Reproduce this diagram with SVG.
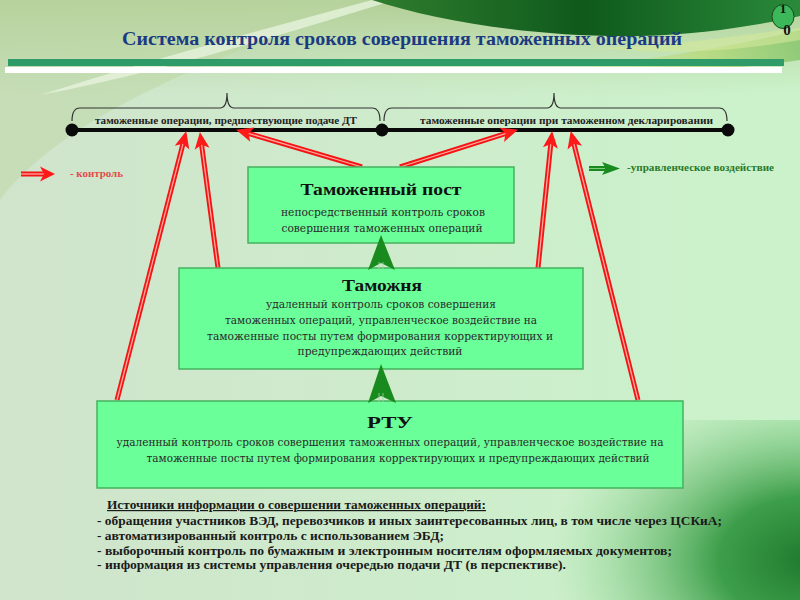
<svg xmlns="http://www.w3.org/2000/svg" width="800" height="600" viewBox="0 0 800 600">
<defs>
  <linearGradient id="bg" x1="0" y1="0" x2="1" y2="0">
    <stop offset="0" stop-color="#d0e4cc"/>
    <stop offset="1" stop-color="#cbf3cb"/>
  </linearGradient>
  <linearGradient id="topband" x1="0" y1="0" x2="0" y2="1">
    <stop offset="0" stop-color="#b2cf96"/>
    <stop offset="1" stop-color="#b6d29c" stop-opacity="0"/>
  </linearGradient>
  <linearGradient id="dark" x1="0" y1="0" x2="1" y2="0">
    <stop offset="0" stop-color="#2f7d2e"/>
    <stop offset="0.5" stop-color="#0f5a1c"/>
    <stop offset="1" stop-color="#2a8a3a"/>
  </linearGradient>
  <linearGradient id="yband" x1="0" y1="0" x2="1" y2="0">
    <stop offset="0" stop-color="#c8e090" stop-opacity="0"/>
    <stop offset="0.6" stop-color="#b5d870"/>
    <stop offset="1" stop-color="#7cc060"/>
  </linearGradient>
  <radialGradient id="br" cx="810" cy="560" r="260" gradientUnits="userSpaceOnUse" gradientTransform="translate(810 560) scale(1 0.7) translate(-810 -560)">
    <stop offset="0" stop-color="#1e7a2e"/>
    <stop offset="0.35" stop-color="#3d9e4a"/>
    <stop offset="1" stop-color="#8fd88f" stop-opacity="0"/>
  </radialGradient>
  <marker id="rhead" markerUnits="userSpaceOnUse" viewBox="-10 -10 20 20" refX="0" refY="0" markerWidth="20" markerHeight="20" orient="auto">
    <path d="M9,0 L-8,-7.5 L-4,0 L-8,7.5 Z" fill="#ff1a1a"/>
  </marker>
  <style>
    .box{fill:#6bff99;stroke:#45b25e;stroke-width:1.5}
    .ttl{font-family:"Liberation Serif","DejaVu Serif",serif;font-weight:bold;font-size:16px;fill:#111;text-anchor:middle}
    .sub{font-family:"DejaVu Serif","Liberation Serif",serif;font-size:10.5px;fill:#2a2a2a;text-anchor:middle}
    .lab{font-family:"Liberation Serif","DejaVu Serif",serif;font-weight:bold;font-size:10px;fill:#222}
    .src{font-family:"Liberation Serif","DejaVu Serif",serif;font-weight:bold;font-size:12px;fill:#1a1a1a}
    .ro{fill:none;stroke:#f31515;stroke-width:5}
    .ri{fill:none;stroke:#ffa89c;stroke-width:1.3}
    .ga{fill:#188a1e}
  </style>
</defs>

<!-- background -->
<rect x="0" y="0" width="800" height="600" fill="url(#bg)"/>
<rect x="0" y="0" width="800" height="95" fill="url(#topband)"/>
<path d="M0,200 C60,120 200,60 380,0 L0,0 Z" fill="#bcd6a2" opacity="0.5"/>
<path d="M40,95 C150,60 260,30 372,0 L395,0 C280,35 170,70 40,95 Z" fill="#e6f2dc" opacity="0.8"/>
<path d="M560,70 C640,60 720,50 800,30 L800,60 C720,72 640,75 560,70 Z" fill="url(#yband)" opacity="0.7"/>
<path d="M372,0 C440,22 540,38 640,36 C700,35 760,25 800,16 L800,0 Z" fill="url(#dark)"/>
<path d="M600,48 C680,45 740,35 800,28 L800,40 C740,50 680,56 600,48 Z" fill="#d4e89a" opacity="0.6"/>
<rect x="0" y="420" width="800" height="180" fill="url(#br)"/>

<!-- title and bars -->
<text x="402" y="45" font-family="Liberation Serif, DejaVu Serif, serif" font-weight="bold" font-size="18" fill="#1c3a82" text-anchor="middle" textLength="560" lengthAdjust="spacingAndGlyphs">Система контроля сроков совершения таможенных операций</text>
<rect x="8" y="59" width="776" height="7" fill="#2e9b68"/>
<rect x="5" y="67" width="777" height="6" fill="#ffffff"/>

<!-- badge -->
<g id="badge">
  <ellipse cx="783" cy="16.5" rx="11" ry="12" fill="#3cb85a" stroke="#1a4a1a" stroke-width="1"/>
  <text x="783" y="13" font-family="Liberation Serif, serif" font-weight="bold" font-size="13" fill="#111" text-anchor="middle">1</text>
  <text x="787" y="35" font-family="Liberation Serif, serif" font-weight="bold" font-size="15" fill="#111" text-anchor="middle">0</text>
</g>

<!-- timeline -->
<g id="timeline">
  <path d="M72,121 Q72,108 80,108 L220,108 Q227,108 227,93 Q227,108 234,108 L372,108 Q380,108 380,121" fill="none" stroke="#333" stroke-width="1.2"/>
  <path d="M384,121 Q384,108 392,108 L547,108 Q554,108 554,93 Q554,108 561,108 L719,108 Q727,108 727,121" fill="none" stroke="#333" stroke-width="1.2"/>
  <line x1="72" y1="130" x2="728" y2="130" stroke="#0a0a0a" stroke-width="4"/>
  <circle cx="72" cy="130" r="6.5" fill="#0a0a0a"/>
  <circle cx="382" cy="130" r="6.5" fill="#0a0a0a"/>
  <circle cx="728" cy="130" r="6.5" fill="#0a0a0a"/>
  <text class="lab" x="95" y="124" textLength="262" lengthAdjust="spacingAndGlyphs">таможенные операции, предшествующие подаче ДТ</text>
  <text class="lab" x="420" y="124" textLength="293" lengthAdjust="spacingAndGlyphs">таможенные операции при  таможенном  декларировании</text>
</g>

<!-- legend -->
<g id="legend">
  <line x1="21" y1="174" x2="46" y2="174" class="ro"/>
  <line x1="21" y1="174" x2="45" y2="174" class="ri"/>
  <path d="M55,174 L40,166.5 L44,174 L40,181.5 Z" fill="#ff1a1a"/>
  <text x="70" y="177" font-family="Liberation Serif, serif" font-weight="bold" font-size="10" fill="#e34a4a" textLength="53" lengthAdjust="spacingAndGlyphs">- контроль</text>
  <line x1="589" y1="168.5" x2="606" y2="168.5" stroke="#1a8a1e" stroke-width="5"/>
  <line x1="589" y1="168.5" x2="605" y2="168.5" stroke="#7ccc7c" stroke-width="1"/>
  <path d="M620,168.5 L602,162 L606,168.5 L602,175 Z" fill="#188a1e"/>
  <text x="627" y="171" font-family="Liberation Serif, serif" font-weight="bold" font-size="10" fill="#2a7a2a" textLength="147" lengthAdjust="spacingAndGlyphs">-управленческое воздействие</text>
</g>

<!-- connectors -->
<g id="connectors">
  <line class="ro" x1="117" y1="400" x2="184" y2="139.8"/>
  <line class="ri" x1="117" y1="400" x2="184" y2="139.8" marker-end="url(#rhead)"/>
  <line class="ro" x1="218" y1="268" x2="201.1" y2="140.9"/>
  <line class="ri" x1="218" y1="268" x2="201.1" y2="140.9" marker-end="url(#rhead)"/>
  <line class="ro" x1="362" y1="167" x2="244.7" y2="132.3"/>
  <line class="ri" x1="362" y1="167" x2="244.7" y2="132.3" marker-end="url(#rhead)"/>
  <line class="ro" x1="400" y1="167" x2="509.4" y2="132.4"/>
  <line class="ri" x1="400" y1="167" x2="509.4" y2="132.4" marker-end="url(#rhead)"/>
  <line class="ro" x1="538" y1="268" x2="551.2" y2="140"/>
  <line class="ri" x1="538" y1="268" x2="551.2" y2="140" marker-end="url(#rhead)"/>
  <line class="ro" x1="638" y1="400" x2="572.9" y2="139.8"/>
  <line class="ri" x1="638" y1="400" x2="572.9" y2="139.8" marker-end="url(#rhead)"/>
</g>

<!-- nodes -->
<g id="post">
  <rect class="box" x="248" y="167" width="266" height="76"/>
  <text class="ttl" x="381" y="195" textLength="161" lengthAdjust="spacingAndGlyphs">Таможенный пост</text>
  <text class="sub" x="383" y="216" textLength="204" lengthAdjust="spacingAndGlyphs">непосредственный контроль сроков</text>
  <text class="sub" x="382" y="232" textLength="201" lengthAdjust="spacingAndGlyphs">совершения таможенных операций</text>
</g>

<g id="tamozhnya">
  <rect class="box" x="179" y="268" width="404" height="101"/>
  <text class="ttl" x="382" y="291" textLength="80" lengthAdjust="spacingAndGlyphs">Таможня</text>
  <text class="sub" x="381" y="308" textLength="230" lengthAdjust="spacingAndGlyphs">удаленный контроль сроков совершения</text>
  <text class="sub" x="381" y="324" textLength="312" lengthAdjust="spacingAndGlyphs">таможенных операций, управленческое воздействие на</text>
  <text class="sub" x="380" y="340" textLength="346" lengthAdjust="spacingAndGlyphs">таможенные посты путем формирования корректирующих и</text>
  <text class="sub" x="380" y="355" textLength="165" lengthAdjust="spacingAndGlyphs">предупреждающих действий</text>
</g>

<g id="rtu">
  <rect class="box" x="97" y="401" width="586" height="87"/>
  <text class="ttl" x="390" y="428" textLength="46" lengthAdjust="spacingAndGlyphs">РТУ</text>
  <text class="sub" x="390" y="446" textLength="547" lengthAdjust="spacingAndGlyphs">удаленный контроль сроков совершения таможенных операций, управленческое воздействие на</text>
  <text class="sub" x="398" y="462" textLength="503" lengthAdjust="spacingAndGlyphs">таможенные посты путем  формирования корректирующих и предупреждающих действий</text>
</g>

<!-- management arrows -->
<g id="mgmt-arrows">
  <path class="ga" d="M381,235 L368,270 L381,263 L395,270 Z"/>
  <line x1="379" y1="262" x2="379" y2="270" stroke="#9ad89a" stroke-width="0.8"/>
  <line x1="383" y1="262" x2="383" y2="270" stroke="#9ad89a" stroke-width="0.8"/>
  <path class="ga" d="M381,364 L368,403 L381,396 L396,403 Z"/>
  <line x1="379" y1="393" x2="379" y2="402" stroke="#9ad89a" stroke-width="0.8"/>
  <line x1="383" y1="393" x2="383" y2="402" stroke="#9ad89a" stroke-width="0.8"/>
</g>

<!-- sources -->
<g id="sources">
  <text class="src" x="107" y="509" text-decoration="underline" textLength="379" lengthAdjust="spacingAndGlyphs">Источники информации о совершении таможенных операций:</text>
  <text class="src" x="97" y="525" textLength="625" lengthAdjust="spacingAndGlyphs">- обращения участников ВЭД, перевозчиков и иных заинтересованных лиц, в том числе через ЦСКиА;</text>
  <text class="src" x="97" y="540" textLength="347" lengthAdjust="spacingAndGlyphs">- автоматизированный контроль с использованием ЭБД;</text>
  <text class="src" x="97" y="555" textLength="575" lengthAdjust="spacingAndGlyphs">- выборочный контроль по бумажным и электронным носителям оформляемых документов;</text>
  <text class="src" x="97" y="569" textLength="469" lengthAdjust="spacingAndGlyphs">- информация из системы управления очередью подачи ДТ (в перспективе).</text>
</g>
</svg>
